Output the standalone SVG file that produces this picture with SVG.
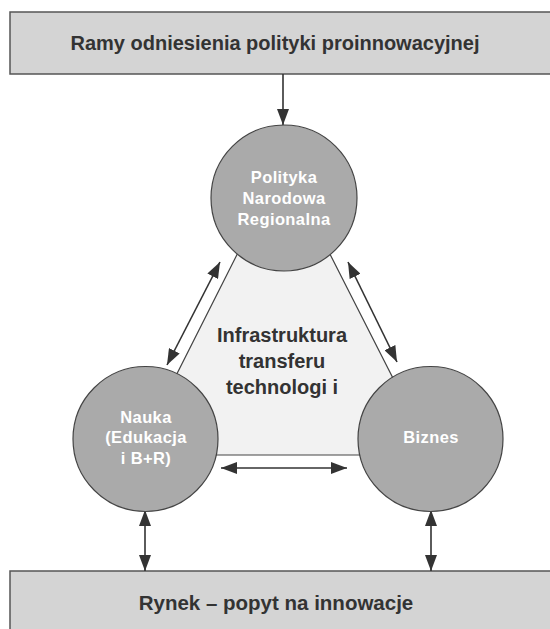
<svg xmlns="http://www.w3.org/2000/svg" width="550" height="629" viewBox="0 0 550 629">
  <defs>
    <marker id="ah" markerUnits="userSpaceOnUse" markerWidth="16" markerHeight="12" refX="16" refY="6" orient="auto-start-reverse">
      <path d="M0,0 L16,6 L0,12 z" fill="#333"/>
    </marker>
    <style>
      .box { fill: #d4d4d4; stroke: #555; stroke-width: 1.5; }
      .circ { fill: #aaaaaa; stroke: #444; stroke-width: 1.2; }
      .tri { fill: #f2f2f2; stroke: #444; stroke-width: 1.2; }
      .lbl { font-family: "Liberation Sans", Arial, sans-serif; font-weight: bold; fill: #333; text-anchor: middle; }
      .clbl { font-family: "Liberation Sans", Arial, sans-serif; font-weight: bold; fill: #ffffff; text-anchor: middle; font-size: 16.5px; letter-spacing: 0.4px; }
      .conn { stroke: #333; stroke-width: 1.6; fill: none; }
    </style>
  </defs>
  <rect width="550" height="629" fill="#ffffff"/>

  <g id="top-box">
    <rect class="box" x="10" y="12" width="560" height="62"/>
    <text class="lbl" x="275" y="50" font-size="20">Ramy odniesienia polityki proinnowacyjnej</text>
  </g>

  <g id="bottom-box">
    <rect class="box" x="10" y="571" width="560" height="80"/>
    <text class="lbl" x="276" y="610" font-size="20.5">Rynek – popyt na innowacje</text>
  </g>

  <g id="infrastruktura">
    <polygon class="tri" points="262,205 305,205 432,455 136,455"/>
    <text class="lbl" x="282" y="342" font-size="20">Infrastruktura</text>
    <text class="lbl" x="282" y="368" font-size="20">transferu</text>
    <text class="lbl" x="282" y="394" font-size="20">technologi i</text>
  </g>

  <g id="connectors">
    <line class="conn" x1="283" y1="74" x2="283" y2="125" marker-end="url(#ah)"/>
    <line class="conn" x1="220" y1="262" x2="167" y2="365" marker-start="url(#ah)" marker-end="url(#ah)"/>
    <line class="conn" x1="348" y1="262" x2="397" y2="362" marker-start="url(#ah)" marker-end="url(#ah)"/>
    <line class="conn" x1="221" y1="468" x2="347" y2="468" marker-start="url(#ah)" marker-end="url(#ah)"/>
    <line class="conn" x1="145" y1="510" x2="145" y2="571" marker-start="url(#ah)" marker-end="url(#ah)"/>
    <line class="conn" x1="431" y1="510" x2="431" y2="571" marker-start="url(#ah)" marker-end="url(#ah)"/>
  </g>

  <g id="polityka">
    <circle class="circ" cx="284" cy="198" r="73"/>
    <text class="clbl" x="284" y="183">Polityka</text>
    <text class="clbl" x="284" y="204">Narodowa</text>
    <text class="clbl" x="284" y="225">Regionalna</text>
  </g>

  <g id="nauka">
    <circle class="circ" cx="145.5" cy="439" r="72.5"/>
    <text class="clbl" x="146" y="423">Nauka</text>
    <text class="clbl" x="146" y="443">(Edukacja</text>
    <text class="clbl" x="146" y="464">i B+R)</text>
  </g>

  <g id="biznes">
    <circle class="circ" cx="430.5" cy="439" r="72.5"/>
    <text class="clbl" x="431" y="443">Biznes</text>
  </g>
</svg>
